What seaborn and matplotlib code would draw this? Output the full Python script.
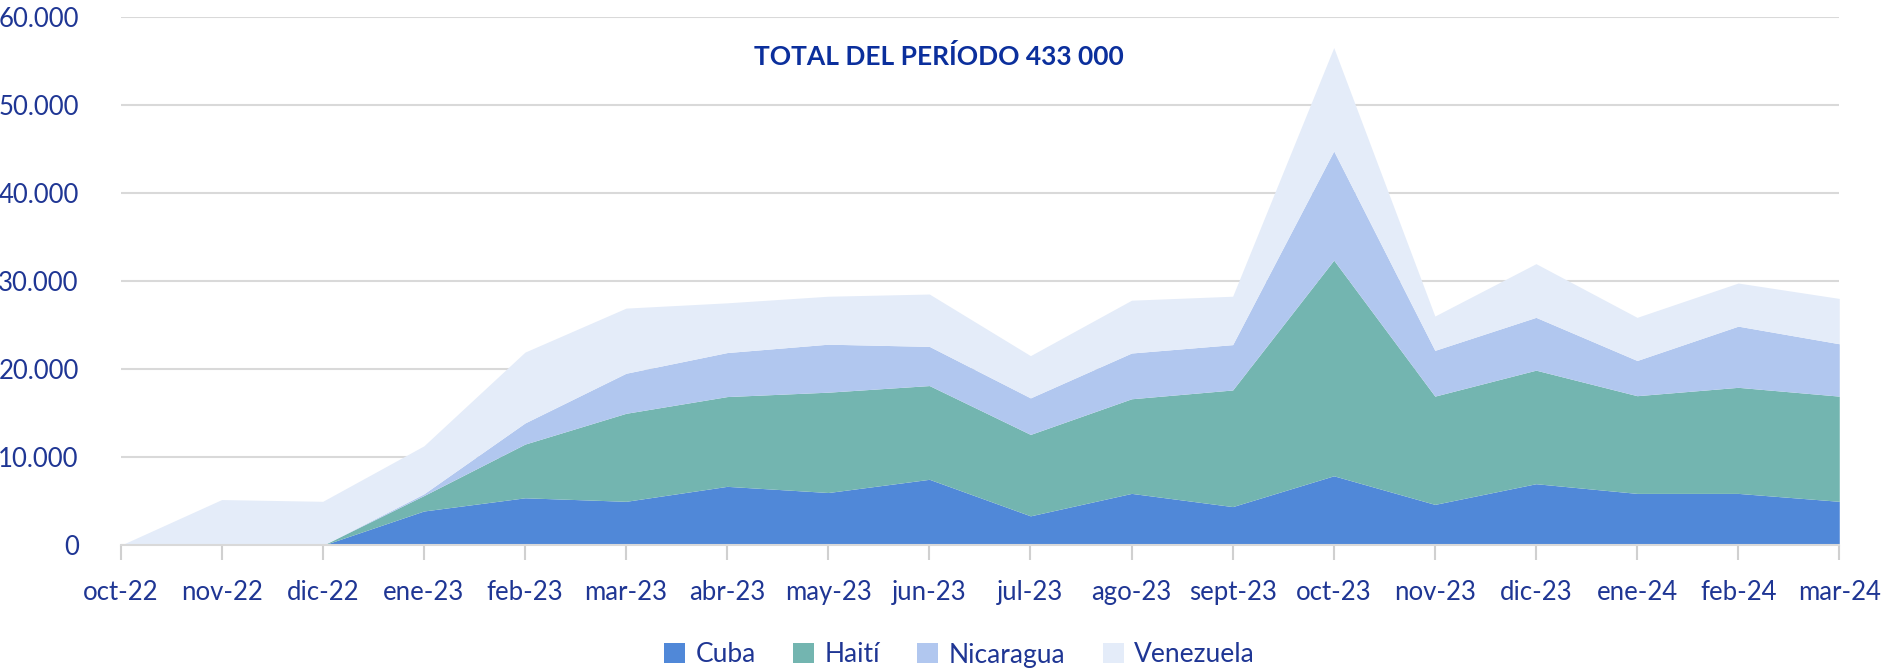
import numpy as np
import pandas as pd
import seaborn as sns
import matplotlib.pyplot as plt
from matplotlib.patches import Patch

# meses del periodo
meses = ['oct-22', 'nov-22', 'dic-22', 'ene-23', 'feb-23', 'mar-23', 'abr-23', 'may-23', 'jun-23',
         'jul-23', 'ago-23', 'sept-23', 'oct-23', 'nov-23', 'dic-23', 'ene-24', 'feb-24', 'mar-24']

# valores por nacionalidad
cuba = [0, 0, 0, 3900, 5400, 5000, 6700, 6000, 7500, 3350, 5900, 4400, 7900, 4650, 7000, 5900, 5900, 5000]
haiti = [0, 0, 0, 1750, 6100, 10000, 10200, 11400, 10650, 9250, 10750, 13250, 24500, 12300, 12900, 11100, 12050, 11950]
nicaragua = [0, 0, 0, 200, 2400, 4550, 5000, 5450, 4450, 4150, 5200, 5150, 12400, 5200, 6000, 4000, 6950, 5950]
venezuela = [0, 5200, 5000, 5450, 8050, 7400, 5650, 5450, 5950, 4800, 6000, 5500, 11750, 3900, 6100, 4900, 4900, 5150]

paises = ['Cuba', 'Haití', 'Nicaragua', 'Venezuela']
colores = ['#5088d8', '#73b5b0', '#b1c7ef', '#e4ecf9']
azul = '#1f3694'

df = pd.DataFrame({'Cuba': cuba, 'Haití': haiti, 'Nicaragua': nicaragua, 'Venezuela': venezuela}, index=meses)

sns.set_theme(style='whitegrid')
plt.rcParams['font.family'] = ['Lato', 'DejaVu Sans']

fig = plt.figure(figsize=(19.04, 6.72), dpi=100)
ax = fig.add_axes([0.0633, 0.1885, 0.9027, 0.7859])

x = np.arange(len(meses))
ax.stackplot(x, df.T.values, colors=colores, linewidth=0)

ax.set_xlim(0, len(meses) - 1)
ax.set_ylim(0, 60000)
ax.set_xticks(x)
ax.set_xticklabels(meses)
ax.set_yticks(range(0, 60001, 10000))
ax.set_yticklabels([f'{v:,}'.replace(',', '.') for v in range(0, 60001, 10000)])

# estilo de ejes
ax.grid(axis='x', visible=False)
ax.grid(axis='y', color='#d9d9d9', linewidth=1.5)
ax.set_axisbelow(True)
for s in ['top', 'right', 'left']:
    ax.spines[s].set_visible(False)
ax.spines['bottom'].set_color('#d9d9d9')
ax.spines['bottom'].set_linewidth(1.5)
ax.tick_params(axis='x', colors='#d0d0d0', length=11, width=1.5, direction='out', bottom=True,
               labelcolor=azul, labelsize=18.5, pad=14)
ax.tick_params(axis='y', length=0, labelcolor=azul, labelsize=18.5, pad=30)

ax.text(0.476, 0.925, 'TOTAL DEL PERÍODO 433 000', transform=ax.transAxes, ha='center', va='center',
        color='#0b2f9c', fontsize=19, fontweight='bold')

handles = [Patch(facecolor=c, edgecolor='none', label=p) for p, c in zip(paises, colores)]
fig.legend(handles=handles, loc='center', bbox_to_anchor=(0.504, 1 - 655 / 672), ncol=4, frameon=False,
           fontsize=19, handlelength=0.8, handleheight=0.8, handletextpad=0.4, columnspacing=1.4,
           labelcolor=azul)

plt.savefig('out.png', dpi=100)
